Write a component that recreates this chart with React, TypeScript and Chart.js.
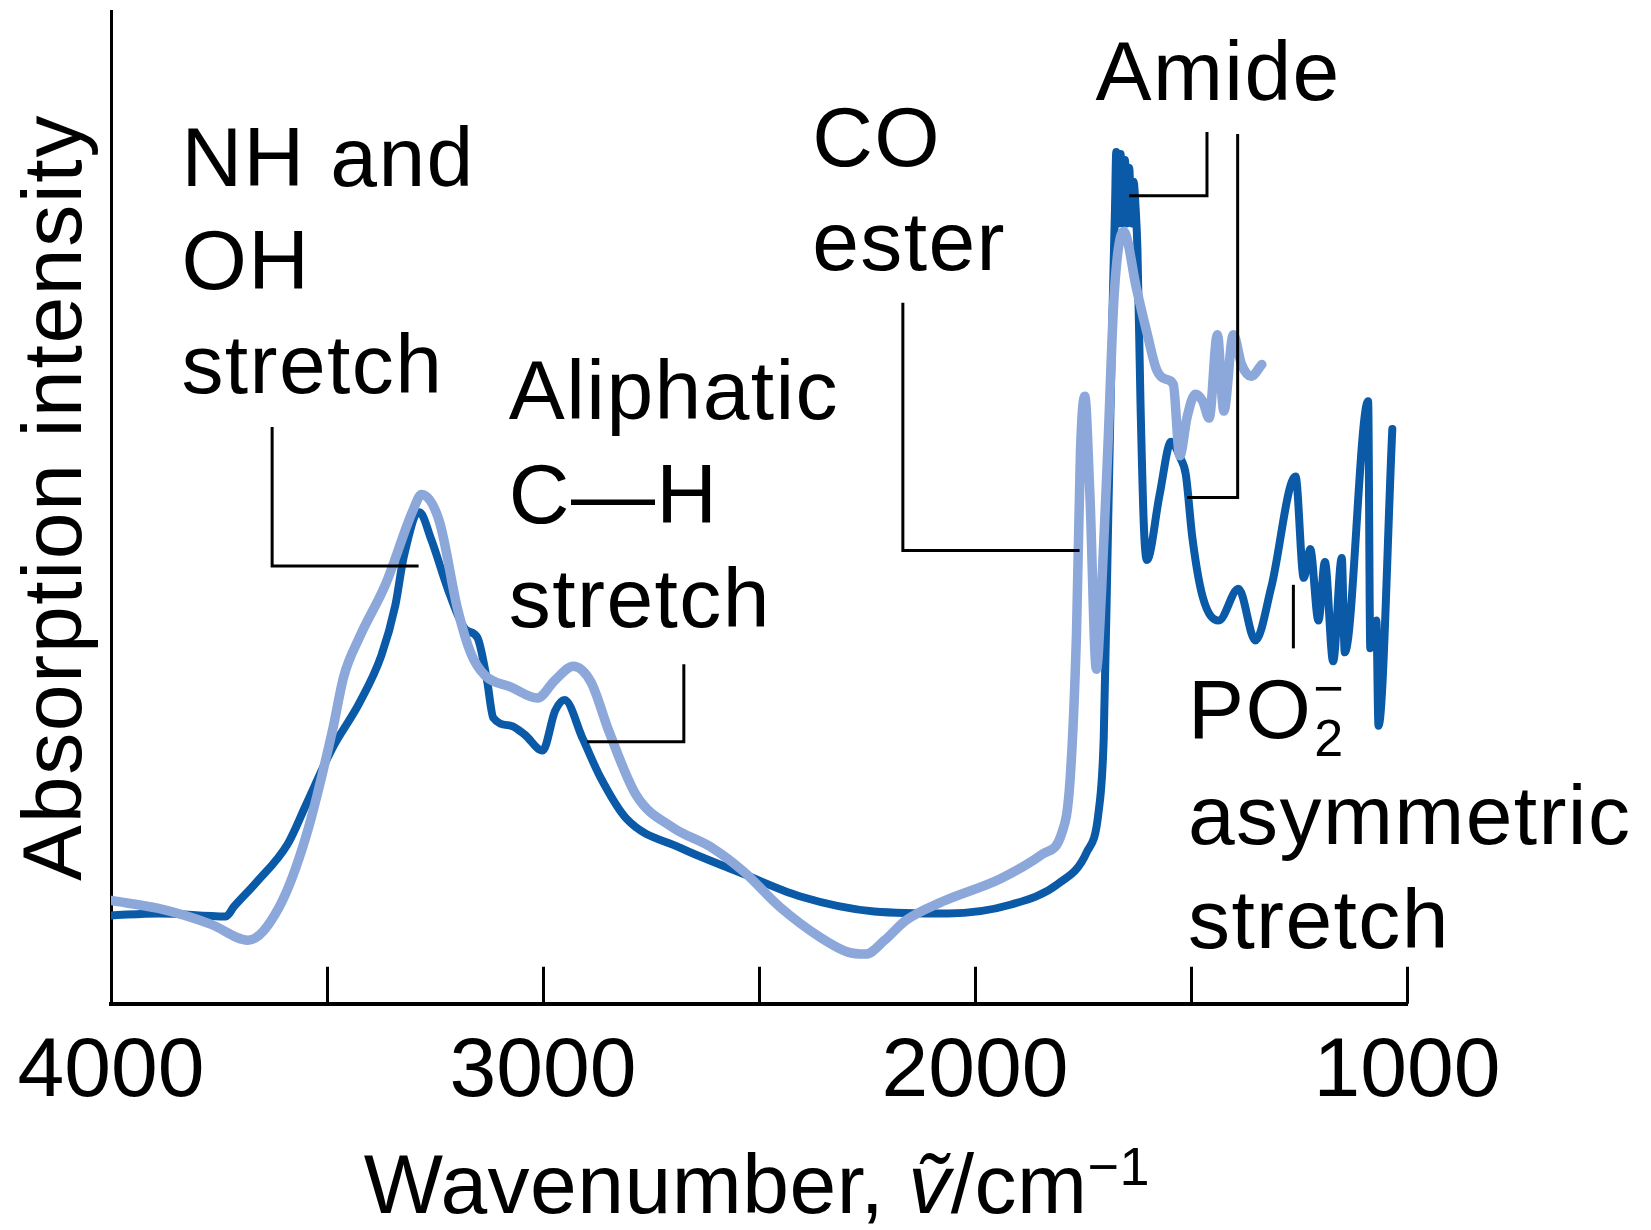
import React, { useEffect, useRef } from "react";
import { Chart, registerables } from "chart.js";

Chart.register(...registerables);

const FONT = "'Liberation Sans', Arial, Helvetica, sans-serif";
const DARK = "#0a5aa8";
const LIGHT = "#8ca7d9";

// ---- Data (wavenumber in cm^-1, absorption intensity in arbitrary units 0-100) ----
const darkWavenumber = [
  4000, 3890, 3734, 3715, 3664, 3591, 3549, 3488, 3425, 3374, 3342, 3322, 3286, 3259, 3218, 3179,
  3152, 3130, 3115, 3074, 3042, 3001, 2972, 2950, 2908, 2867, 2806, 2682, 2548, 2404, 2233, 2063,
  1916, 1807, 1741, 1714, 1702, 1692, 1682, 1676, 1673, 1668, 1663, 1658, 1653, 1648, 1643, 1638,
  1633, 1628, 1624, 1617, 1609, 1602, 1573, 1546, 1524, 1512, 1497, 1473, 1436, 1390, 1351, 1314,
  1258, 1239, 1224, 1205, 1190, 1171, 1151, 1144, 1090, 1085, 1071, 1066, 1034,
];
const darkIntensity = [
  8.9, 9.1, 8.8, 9.8, 12.2, 16.1, 20.0, 25.7, 30.3, 35.1, 40.1, 45.1, 49.5, 46.8, 41.5, 37.7,
  36.9, 32.7, 28.8, 28.0, 27.1, 25.5, 29.5, 30.6, 26.7, 22.8, 18.6, 15.7, 13.3, 10.8, 9.3, 9.1,
  10.0, 12.1, 15.3, 19.3, 26.8, 48.0, 69.2, 80.0, 85.8, 78.6, 85.6, 78.6, 85.0, 78.6, 84.2, 78.6,
  82.8, 80.0, 76.0, 60.7, 48.0, 44.7, 51.2, 56.6, 54.9, 53.3, 47.0, 41.0, 38.6, 41.8, 36.6, 42.0,
  53.1, 42.9, 45.8, 38.6, 44.5, 34.5, 44.9, 35.4, 60.7, 35.8, 38.6, 28.0, 57.9,
];

const lightWavenumber = [
  4000, 3890, 3768, 3683, 3610, 3549, 3488, 3461, 3425, 3364, 3301, 3281, 3240, 3198, 3167, 3135,
  3074, 3013, 2972, 2930, 2889, 2847, 2784, 2701, 2608, 2535, 2453, 2355, 2294, 2253, 2209, 2160,
  2075, 1941, 1843, 1799, 1780, 1765, 1756, 1746, 1734, 1719, 1707, 1692, 1678, 1656, 1626, 1602,
  1580, 1558, 1541, 1526, 1509, 1490, 1473, 1458, 1439, 1424, 1402, 1383, 1361, 1336,
];
const lightIntensity = [
  10.4, 9.6, 8.0, 6.4, 9.8, 16.8, 27.4, 33.0, 36.9, 42.3, 49.7, 51.3, 48.6, 39.8, 35.3, 33.1,
  31.9, 30.8, 32.6, 34.0, 32.4, 27.4, 21.0, 17.8, 15.7, 13.3, 9.8, 6.6, 5.2, 5.0, 6.4, 8.4,
  10.3, 12.6, 15.1, 17.2, 22.5, 37.4, 55.4, 61.2, 51.2, 33.7, 41.6, 56.5, 71.3, 77.8, 72.0, 67.6,
  63.9, 62.9, 62.4, 55.2, 59.1, 61.4, 60.7, 59.0, 67.4, 59.7, 67.4, 64.4, 63.2, 64.4,
];

const tickValues = [4000, 3500, 3000, 2500, 2000, 1500, 1000];
const labeledTicks = [4000, 3000, 2000, 1000];

const yAxisTitle = "Absorption intensity";

// ---- Annotations (anchored in data space) ----
const LINE_STEP = 10.45;
const labelBlocks = [
  { lines: ["NH and", "OH", "stretch"], wavenumber: 3837, intensity: 82.4 },
  { lines: ["Aliphatic", "C\u2014H", "stretch"], wavenumber: 3079, intensity: 58.9 },
  { lines: ["CO", "ester"], wavenumber: 2377, intensity: 84.4 },
  { lines: ["Amide"], wavenumber: 1721, intensity: 91.0 },
  { lines: ["asymmetric", "stretch"], wavenumber: 1507, intensity: 16.1 },
];
const phosphateLabel = { wavenumber: 1507, intensity: 26.75 };

const leaderLines = [
  [[3627, 58.1], [3627, 44.1], [3288, 44.1]],
  [[2674, 34.2], [2674, 26.4], [2898, 26.4]],
  [[2167, 70.6], [2167, 45.65], [1758, 45.65]],
  [[1463, 87.8], [1463, 81.4], [1643, 81.4]],
  [[1392, 87.6], [1392, 51.0], [1509, 51.0]],
  [[1263, 42.2], [1263, 35.8]],
];

const annotationPlugin = {
  id: "spectrumAnnotations",
  afterDraw(chart: any) {
    const { ctx, chartArea } = chart;
    const xs = chart.scales.x;
    const ys = chart.scales.y;
    const px = (v: number) => xs.getPixelForValue(v);
    const py = (v: number) => ys.getPixelForValue(v);
    ctx.save();

    // inner tick marks
    ctx.strokeStyle = "#000";
    ctx.lineWidth = 3;
    ctx.lineCap = "butt";
    for (const t of tickValues) {
      const x = Math.round(px(t)) + 0.5;
      ctx.beginPath();
      ctx.moveTo(x, chartArea.bottom);
      ctx.lineTo(x, chartArea.bottom - 37);
      ctx.stroke();
    }

    // leader lines
    ctx.lineWidth = 3;
    ctx.lineJoin = "miter";
    for (const line of leaderLines) {
      ctx.beginPath();
      line.forEach((p, i) => {
        const x = px(p[0]);
        const y = py(p[1]);
        if (i === 0) ctx.moveTo(x, y);
        else ctx.lineTo(x, y);
      });
      ctx.stroke();
    }

    // text blocks
    ctx.fillStyle = "#000";
    ctx.textAlign = "left";
    ctx.textBaseline = "alphabetic";
    ctx.font = `84px ${FONT}`;
    (ctx as any).letterSpacing = "1.4px";
    for (const b of labelBlocks) {
      b.lines.forEach((t, i) => {
        ctx.fillText(t, px(b.wavenumber), py(b.intensity - i * LINE_STEP));
      });
    }

    // PO2- label
    const pxp = px(phosphateLabel.wavenumber);
    const pyp = py(phosphateLabel.intensity);
    ctx.font = `84px ${FONT}`;
    ctx.fillText("PO", pxp, pyp);
    const wPO = ctx.measureText("PO").width;
    (ctx as any).letterSpacing = "0px";
    ctx.font = `52px ${FONT}`;
    ctx.fillText("2", pxp + wPO + 2, pyp + 18);
    ctx.fillText("\u2212", pxp + wPO + 1, pyp - 32);

    // y axis title
    ctx.save();
    ctx.font = `84px ${FONT}`;
    (ctx as any).letterSpacing = "1.7px";
    ctx.translate(chartArea.left - 30, py(51));
    ctx.rotate(-Math.PI / 2);
    ctx.textAlign = "center";
    ctx.fillText(yAxisTitle, 0, 0);
    ctx.restore();

    // x axis title: Wavenumber, ṽ/cm⁻¹
    (ctx as any).letterSpacing = "0.5px";
    let cx = px(3415);
    const base = chartArea.bottom + 209;
    ctx.textAlign = "left";
    ctx.font = `84px ${FONT}`;
    ctx.fillText("Wavenumber, ", cx, base);
    cx += ctx.measureText("Wavenumber, ").width;
    ctx.font = `italic 84px ${FONT}`;
    ctx.fillText("\u1E7D", cx, base);
    cx += ctx.measureText("\u1E7D").width;
    ctx.font = `84px ${FONT}`;
    ctx.fillText("/cm", cx, base);
    cx += ctx.measureText("/cm").width;
    ctx.font = `54px ${FONT}`;
    ctx.fillText("\u22121", cx, base - 28);
    (ctx as any).letterSpacing = "0px";

    ctx.restore();
  },
};

export default function App() {
  const canvasRef = useRef<HTMLCanvasElement | null>(null);

  useEffect(() => {
    const canvas = canvasRef.current;
    if (!canvas) return;
    const dark = darkWavenumber.map((x, i) => ({ x, y: darkIntensity[i] }));
    const light = lightWavenumber.map((x, i) => ({ x, y: lightIntensity[i] }));
    const chart = new Chart(canvas, {
      type: "line",
      data: {
        datasets: [
          {
            label: "Sample B",
            data: light,
            borderColor: LIGHT,
            borderWidth: 9.5,
            pointRadius: 0,
            cubicInterpolationMode: "monotone",
            borderCapStyle: "round",
            borderJoinStyle: "round",
            fill: false,
            order: 0,
          },
          {
            label: "Sample A",
            data: dark,
            borderColor: DARK,
            borderWidth: 8,
            pointRadius: 0,
            cubicInterpolationMode: "monotone",
            borderCapStyle: "round",
            borderJoinStyle: "round",
            fill: false,
            order: 1,
          },
        ],
      },
      options: {
        animation: false,
        responsive: false,
        devicePixelRatio: 1,
        events: [],
        layout: { padding: { left: 111, top: 11, right: 244, bottom: 88 } },
        plugins: { legend: { display: false }, tooltip: { enabled: false }, title: { display: false } },
        scales: {
          x: {
            type: "linear",
            reverse: true,
            min: 1000,
            max: 4000,
            afterBuildTicks: (scale: any) => {
              scale.ticks = tickValues.map((v) => ({ value: v }));
            },
            ticks: {
              autoSkip: false,
              maxRotation: 0,
              minRotation: 0,
              padding: 12,
              color: "#000",
              font: { family: FONT, size: 84, lineHeight: 1.36 },
              callback: (v: any) => (labeledTicks.includes(Number(v)) ? String(v) : ""),
            },
            grid: { display: false, drawTicks: false },
            border: { display: true, color: "#000", width: 4 },
            title: { display: false },
          },
          y: {
            type: "linear",
            min: 0,
            max: 100,
            ticks: { display: false },
            grid: { display: false, drawTicks: false },
            border: { display: true, color: "#000", width: 3 },
            title: { display: false },
          },
        },
      },
      plugins: [annotationPlugin],
    } as any);
    return () => chart.destroy();
  }, []);

  return (
    <div style={{ position: "absolute", left: 0, top: 0, width: 1651, height: 1230, background: "#fff" }}>
      <canvas ref={canvasRef} width={1651} height={1230} style={{ display: "block" }} />
    </div>
  );
}
